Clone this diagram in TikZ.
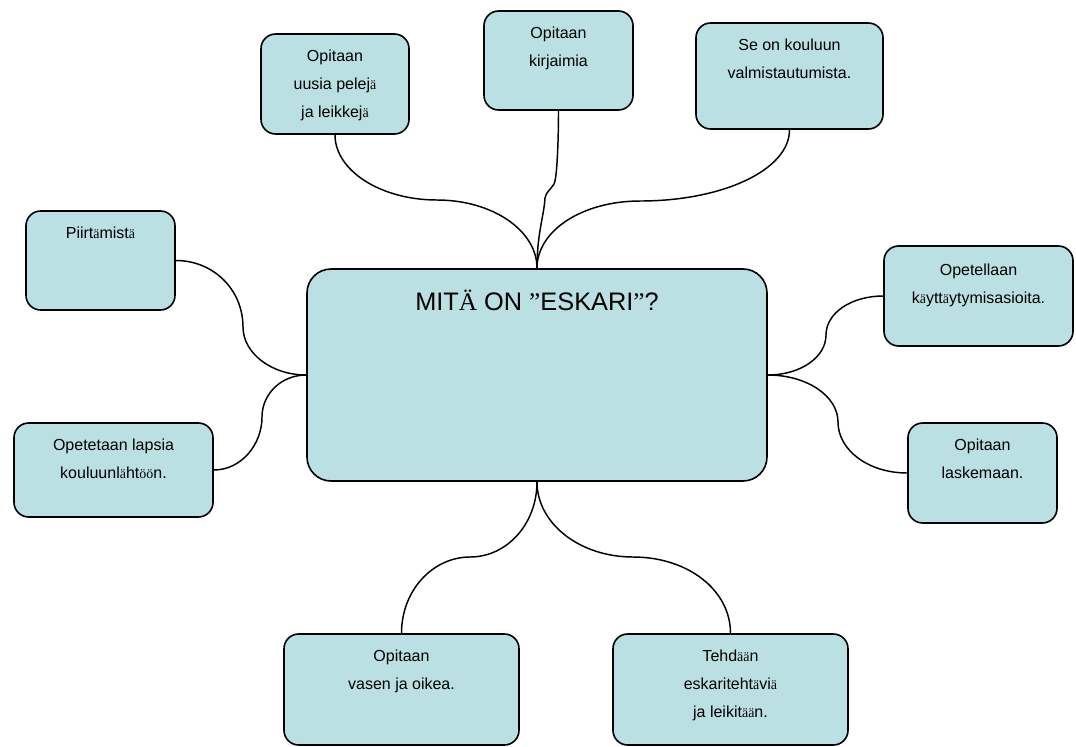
\documentclass[tikz,border=0pt]{standalone}
\usepackage{fontspec}
\setmainfont{Liberation Sans}
\newfontfamily\serifa{Liberation Serif}
\newcommand\sm{{\serifa\fontsize{10.5}{21}\selectfont ä}}
\newcommand\so{{\serifa\fontsize{10.5}{21}\selectfont ö}}
\usetikzlibrary{positioning}
\definecolor{boxfill}{HTML}{BBE0E3}
\begin{document}
\begin{tikzpicture}[x=0.75pt,y=-0.75pt,
  box/.style={draw=black, line width=1.2pt, fill=boxfill, rounded corners=11pt, inner sep=0pt},
  txt/.style={align=center, inner sep=0pt, font=\fontsize{12}{21}\selectfont},
  link/.style={draw=black, line width=1.1pt}]
\useasboundingbox (0,0) rectangle (1076,747);

% boxes
\node[box, minimum width=111pt, minimum height=75pt] (b1) at (335,84) {};
\node[box, minimum width=111.75pt, minimum height=74.25pt] (b2) at (558.5,60.5) {};
\node[box, minimum width=140.25pt, minimum height=79.5pt] (b3) at (789.5,76) {};
\node[box, rounded corners=18pt, minimum width=345pt, minimum height=159pt] (c) at (537,375) {};
\node[box, minimum width=111.75pt, minimum height=74.25pt] (bp) at (100.5,260.5) {};
\node[box, minimum width=149.25pt, minimum height=70.5pt] (bo) at (113.5,470) {};
\node[box, minimum width=141.75pt, minimum height=75pt] (br1) at (978.5,296) {};
\node[box, minimum width=111.75pt, minimum height=75pt] (br2) at (982.5,473) {};
\node[box, minimum width=176.25pt, minimum height=83.25pt] (bv) at (401.5,689.5) {};
\node[box, minimum width=176.25pt, minimum height=83.25pt] (bt) at (730.5,689.5) {};

% texts
\node[txt, below=12pt of b1.north] (t1) {Opitaan\\uusia pelej\sm\\ja leikkej\sm};
\node[txt, below=12pt of b2.north] (t2) {Opitaan\\kirjaimia};
\node[txt, below=12pt of b3.north] (t3) {Se on kouluun\\valmistautumista.};
\node[anchor=base, inner sep=0pt, font=\fontsize{19}{22}\selectfont] (tc) at (537,310) {MIT{\serifa Ä} ON {\serifa ”}ESKARI{\serifa ”}?};
\node[txt, below=12.5pt of bp.north] (tp) {Piirt\sm mist\sm};
\node[txt, below=12pt of bo.north] (to) {Opetetaan lapsia\\kouluunl\sm ht\so\so n.};
\node[txt, below=13.5pt of br1.north] (tr1) {Opetellaan\\k\sm ytt\sm ytymisasioita.};
\node[txt, below=12.5pt of br2.north] (tr2) {Opitaan\\laskemaan.};
\node[txt, below=12.5pt of bv.north] (tv) {Opitaan\\vasen ja oikea.};
\node[txt, below=12.5pt of bt.north] (tt) {Tehd\sm\sm n\\eskariteht\sm vi\sm\\ja leikit\sm\sm n.};

% connectors
\coordinate (m1) at (437,200);
\draw[link] (c.north) .. controls +(0,-38) and +(55,0) .. (m1) .. controls +(-56,0) and +(0,36) .. (b1.south);
\coordinate (k2a) at (545,198);
\coordinate (k2b) at (554,184);
\draw[link] (c.north) .. controls +(0,-35) and +(-1,18) .. (k2a) .. controls +(1,-6) and +(-3,5) .. (k2b) .. controls +(3,-5) and +(0,30) .. (b2.south);
\coordinate (m3) at (640,201);
\draw[link] (c.north) .. controls +(0,-38) and +(-57,0) .. (m3) .. controls +(83,0) and +(0,40) .. (b3.south);

\coordinate (ml1) at (243,327);
\draw[link] (bp.east) .. controls +(38,0) and +(0,-37) .. (ml1) .. controls +(0,26) and +(-35,0) .. (c.west);
\coordinate (ml2) at (262,417);
\draw[link] (bo.east) .. controls +(27,0) and +(0,28) .. (ml2) .. controls +(0,-23) and +(-25,0) .. (c.west);

\coordinate (mr1) at (826,335);
\draw[link] (c.east) .. controls +(33,0) and +(0,22) .. (mr1) .. controls +(0,-22) and +(-32,0) .. (br1.west);
\coordinate (mr2) at (838,422);
\draw[link] (c.east) .. controls +(39,0) and +(0,-26) .. (mr2) .. controls +(0,28) and +(-39,0) .. (br2.west);

\coordinate (mb1) at (470,557);
\draw[link] (c.south) .. controls +(0,42) and +(37,0) .. (mb1) .. controls +(-37,0) and +(0,-43) .. (bv.north);
\coordinate (mb2) at (633,557);
\draw[link] (c.south) .. controls +(0,42) and +(-53,0) .. (mb2) .. controls +(55,0) and +(0,-43) .. (bt.north);
\end{tikzpicture}
\end{document}
